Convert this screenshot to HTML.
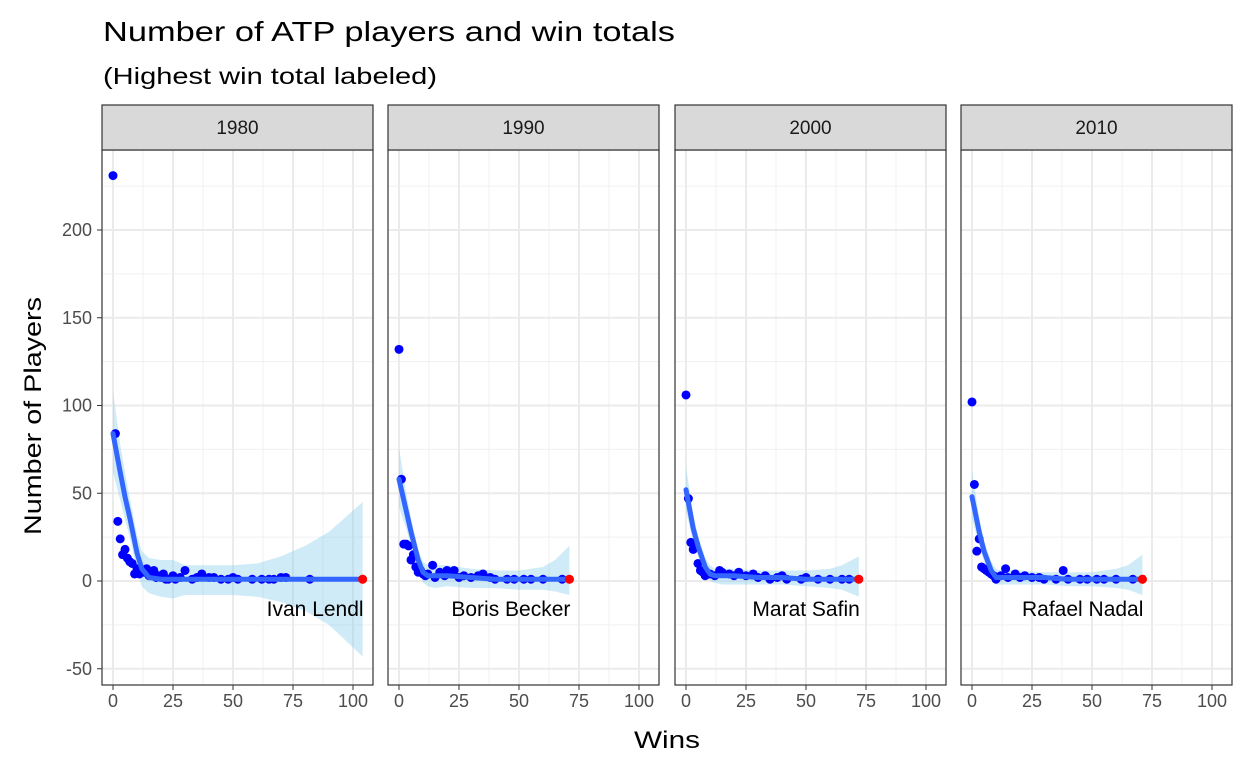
<!DOCTYPE html>
<html><head><meta charset="utf-8"><style>
body{margin:0;background:#fff;}
svg text{font-family:"Liberation Sans",Arial,sans-serif;}
</style></head><body>
<svg id="chart" width="1248" height="768" xmlns="http://www.w3.org/2000/svg">
<text x="103" y="41" font-size="28" textLength="572" lengthAdjust="spacingAndGlyphs" fill="#000">Number of ATP players and win totals</text>
<text x="103" y="84" font-size="23" textLength="334" lengthAdjust="spacingAndGlyphs" fill="#000">(Highest win total labeled)</text>
<text x="634" y="748" font-size="24" textLength="66" lengthAdjust="spacingAndGlyphs">Wins</text>
<text transform="translate(41,535) rotate(-90)" font-size="24" textLength="238" lengthAdjust="spacingAndGlyphs">Number of Players</text>
<g id="plots"></g>
</svg>
<script>
const years = ["1980","1990","2000","2010"];
const labels = ["Ivan Lendl","Boris Becker","Marat Safin","Rafael Nadal"];
const xTicks = [0,25,50,75,100];
const yTicks = [-50,0,50,100,150,200];
const wins1980 = [0,1,2,3,4,5,6,7,8,9,10,11,12,13,14,15,16,17,18,19,20,21,22,23,25,26,28,30,33,35,37,40,42,45,48,50,52,58,62,65,67,70,72,82,104];
const count1980 = [231,84,34,24,15,18,13,11,10,4,7,4,5,5,7,3,4,6,2,3,2,4,1,1,3,1,2,6,1,2,4,2,2,1,1,2,1,1,1,1,1,2,2,1,1];
const wins1990 = [0,1,2,3,4,5,6,7,8,9,10,11,12,14,15,17,19,20,22,23,25,27,30,33,35,38,40,45,48,52,55,60,68,71];
const count1990 = [132,58,21,21,20,12,15,8,5,6,4,3,4,9,2,5,3,6,5,6,2,3,2,3,4,2,1,1,1,1,1,1,1,1];
const wins2000 = [0,1,2,3,4,5,6,7,8,10,12,14,15,18,20,22,25,28,30,33,35,38,40,42,48,50,55,60,65,68,72];
const count2000 = [106,47,22,18,21,10,6,5,3,4,3,6,5,4,3,5,3,4,2,3,1,2,3,1,1,2,1,1,1,1,1];
const wins2010 = [0,1,2,3,4,5,6,7,8,9,10,12,14,15,18,20,22,25,28,30,35,38,40,45,48,52,55,60,67,71];
const count2010 = [102,55,17,24,8,7,6,5,4,3,1,3,7,2,4,2,3,2,2,1,1,6,1,1,1,1,1,1,1,1];
const fitX1980 = [0,3,5,7,10,12,15,20,25,30,40,50,60,70,80,90,104];
const fit1980 = [84,62,48,36,16,7,2,1,1,1,1,1,1,1,1,1,1];
const lo1980 = [62,46,35,25,6,-3,-7,-9,-10,-8,-8,-8,-9,-12,-17,-25,-43];
const hi1980 = [108,78,62,47,26,17,13,12,12,9,9,9,10,14,20,28,45];
const fitX1990 = [0,3,5,8,10,12,15,20,30,40,50,60,65,71];
const fit1990 = [58,40,28,12,5,3,3,3,2,1,1,1,1,1];
const lo1990 = [42,30,20,6,-1,-3,-4,-3,-4,-4,-5,-5,-6,-8];
const hi1990 = [76,50,36,18,11,9,9,9,7,6,6,8,12,20];
const fitX2000 = [0,3,5,8,10,12,15,20,30,40,50,60,65,72];
const fit2000 = [52,30,20,8,4,3,3,3,2,2,1,1,1,1];
const lo2000 = [40,22,14,3,0,-1,-2,-2,-2,-2,-3,-4,-5,-9];
const hi2000 = [65,38,26,13,9,7,7,7,6,6,6,7,9,14];
const fitX2010 = [0,3,5,8,10,12,15,20,30,40,50,60,65,71];
const fit2010 = [48,28,17,6,2,2,2,2,2,1,1,1,1,1];
const lo2010 = [36,20,11,1,-2,-2,-2,-2,-2,-3,-3,-4,-5,-8];
const hi2010 = [63,36,23,11,7,6,6,6,5,5,5,7,9,15];

const wins=[wins1980,wins1990,wins2000,wins2010];
const counts=[count1980,count1990,count2000,count2010];
const fitXs=[fitX1980,fitX1990,fitX2000,fitX2010];
const fits=[fit1980,fit1990,fit2000,fit2010];
const los=[lo1980,lo1990,lo2000,lo2010];
const his=[hi1980,hi1990,hi2000,hi2010];

(function(){
const NS="http://www.w3.org/2000/svg";
const g=document.getElementById('plots');
const panelLeft=[102,388,675,961], panelW=271, pTop=150, pBottom=685;
function yScale(v){return 581-1.755*v;}
function mk(tag,attrs,parent){const e=document.createElementNS(NS,tag);for(const k in attrs)e.setAttribute(k,attrs[k]);(parent||g).appendChild(e);return e;}

yTicks.forEach(t=>{
  const tx=mk('text',{x:92,y:yScale(t)+6,'font-size':18,fill:'#4d4d4d','text-anchor':'end'});
  tx.textContent=t;
  
  
  mk('line',{x1:97,x2:102,y1:yScale(t),y2:yScale(t),stroke:'#333','stroke-width':1});
});

years.forEach((yr,p)=>{
  const L=panelLeft[p];
  const xS=v=>L+11+2.4*v;
  const pg=mk('g',{});
  
  
  for(let v=-25;v<=225;v+=50) mk('line',{x1:L,x2:L+panelW,y1:yScale(v),y2:yScale(v),stroke:'#f0f0f0','stroke-width':1},pg);
  for(let v=12.5;v<=100;v+=25) mk('line',{x1:xS(v),x2:xS(v),y1:pTop,y2:pBottom,stroke:'#f0f0f0','stroke-width':1},pg);
  yTicks.forEach(t=>mk('line',{x1:L,x2:L+panelW,y1:yScale(t),y2:yScale(t),stroke:'#ebebeb','stroke-width':2},pg));
  xTicks.forEach(t=>{
    mk('line',{x1:xS(t),x2:xS(t),y1:pTop,y2:pBottom,stroke:'#ebebeb','stroke-width':2},pg);
    mk('line',{x1:xS(t),x2:xS(t),y1:pBottom,y2:pBottom+5,stroke:'#333','stroke-width':1},pg);
    const tx=mk('text',{x:xS(t),y:pBottom+22,'font-size':18,fill:'#4d4d4d','text-anchor':'middle'},pg);
    tx.textContent=t;
    
    
  });
  const fx=fitXs[p];
  let d='M'+fx.map((x,i)=>xS(x)+','+yScale(his[p][i])).join(' L');
  d+=' L'+fx.map((x,i)=>xS(x)+','+yScale(los[p][i])).reverse().join(' L')+' Z';
  const band=mk('path',{d:d,fill:'#87ceeb','fill-opacity':0.4},pg);
  
  
  const w=wins[p],c=counts[p];
  w.forEach((x,i)=>{
    const last=i===w.length-1;
    const pt=mk('circle',{cx:xS(x),cy:yScale(c[i]),r:4.5,fill:last?'#ff0000':'#0000ff'},pg);
    
    
  });
  const ln=mk('polyline',{points:fx.map((x,i)=>xS(x)+','+yScale(fits[p][i])).join(' '),fill:'none',stroke:'#3366ff','stroke-width':5,'stroke-linejoin':'round','stroke-linecap':'round'},pg);
  
  
  const mi=w.length-1;
  mk('circle',{cx:xS(w[mi]),cy:yScale(c[mi]),r:4.5,fill:'#ff0000'},pg);
  const lb=mk('text',{x:xS(w[mi])+1,y:616,'font-size':21,fill:'#000','text-anchor':'end'},pg);
  lb.textContent=labels[p];
  
  
  mk('rect',{x:L,y:pTop,width:panelW,height:pBottom-pTop,fill:'none',stroke:'#333','stroke-width':1.2},pg);
  const st=mk('rect',{x:L,y:105,width:panelW,height:45,fill:'#d9d9d9',stroke:'#333','stroke-width':1.2},pg);
  
  
  const stt=mk('text',{x:L+panelW/2,y:134,'font-size':19,fill:'#1a1a1a','text-anchor':'middle'},pg);
  stt.textContent=yr;
  
  
});
})();
</script>
</body></html>
